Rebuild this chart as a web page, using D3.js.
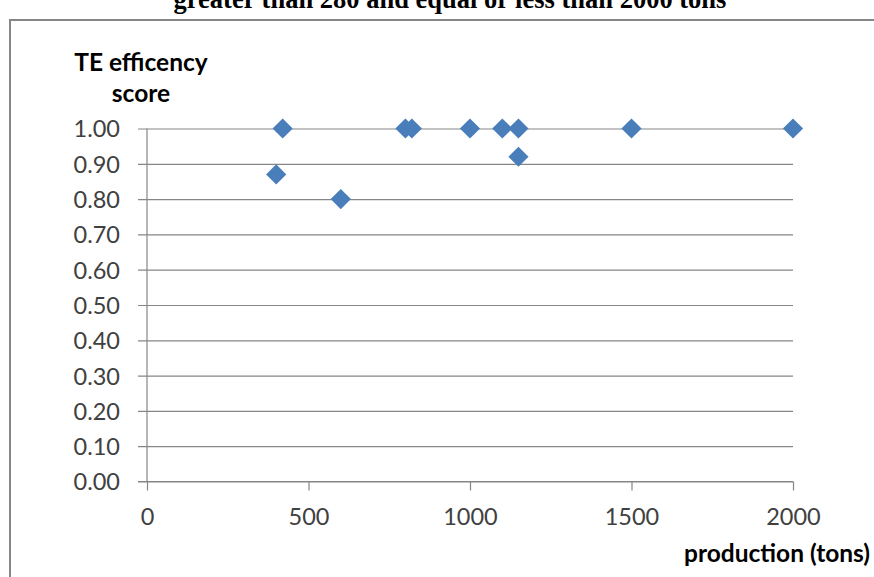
<!DOCTYPE html>
<html>
<head>
<meta charset="utf-8">
<script src="https://cdn.jsdelivr.net/npm/d3@7"></script>
<style>
  html, body { margin: 0; padding: 0; background: #fff; }
  svg { display: block; }
</style>
</head>
<body>
<svg id="chart" width="874" height="577"></svg>
<script>
// Production (tons) and TE efficiency score per farm
const production = [420, 400, 600, 800, 820, 1000, 1100, 1150, 1150, 1500, 2000];
const teScore    = [1.00, 0.87, 0.80, 1.00, 1.00, 1.00, 1.00, 1.00, 0.92, 1.00, 1.00];
const xTicks = [0, 500, 1000, 1500, 2000];
const yTicks = [0, 0.1, 0.2, 0.3, 0.4, 0.5, 0.6, 0.7, 0.8, 0.9, 1.0];

const titleText = "greater than 280 and equal or less than 2000 tons";
const yTitle = ["TE efficency", "score"];
const xTitle = "production (tons)";

const svg = d3.select("#chart");
const gridColor = "#868686";
const markColor = "#4a7ebb";
const labelFont = "Lato, 'Open Sans', sans-serif";

// Title (partly above the page edge)
svg.append("text")
  .attr("x", 450).attr("y", 8)
  .attr("text-anchor", "middle")
  .attr("font-family", "'Liberation Serif', 'Times New Roman', serif")
  .attr("font-weight", "bold")
  .attr("font-size", 26.5)
  .attr("fill", "#000")
  .text(titleText);

// Chart frame
svg.append("rect")
  .attr("x", 10).attr("y", 20)
  .attr("width", 880).attr("height", 600)
  .attr("fill", "none")
  .attr("stroke", gridColor)
  .attr("stroke-width", 2);

const x = d3.scaleLinear().domain([0, 2000]).range([147, 793]);
const y = d3.scaleLinear().domain([0, 1]).range([481.5, 128.5]);

// Horizontal gridlines with left tick marks and labels
const yAxis = d3.axisLeft(y)
  .tickValues(yTicks)
  .tickSize(-(x(2000) - x(0)))
  .tickPadding(27)
  .tickFormat(d3.format(".2f"));
const gy = svg.append("g").attr("transform", `translate(${x(0)},0)`).call(yAxis);
gy.select(".domain").remove();
gy.selectAll(".tick line")
  .attr("x1", -9)
  .attr("stroke", gridColor).attr("stroke-width", 1.2);
gy.selectAll(".tick text")
  .attr("font-family", labelFont).attr("font-size", 23.5)
  .attr("dy", "0.36em")
  .attr("fill", "#404040");

// Vertical axis line
svg.append("line")
  .attr("x1", x(0)).attr("x2", x(0))
  .attr("y1", y(1)).attr("y2", y(0))
  .attr("stroke", gridColor).attr("stroke-width", 1.2);

// Bottom axis
const xAxis = d3.axisBottom(x)
  .tickValues(xTicks)
  .tickSize(9)
  .tickFormat(d3.format("d"));
const gx = svg.append("g").attr("transform", `translate(0,${y(0)})`).call(xAxis);
gx.select(".domain").attr("stroke", gridColor).attr("stroke-width", 1.2)
  .attr("d", `M${x(0) - 9},0H${x(2000)}`);
gx.selectAll(".tick line").attr("stroke", gridColor).attr("stroke-width", 1.2);
gx.selectAll(".tick text")
  .attr("y", 43.5).attr("dy", 0)
  .attr("font-family", labelFont).attr("font-size", 23.5)
  .attr("fill", "#404040");

// Axis titles
const titleFont = 24.5;
svg.append("text")
  .attr("x", 141).attr("y", 71)
  .attr("text-anchor", "middle")
  .attr("font-family", labelFont).attr("font-weight", "bold").attr("font-size", titleFont)
  .attr("fill", "#000")
  .text(yTitle[0]);
svg.append("text")
  .attr("x", 141).attr("y", 102)
  .attr("text-anchor", "middle")
  .attr("font-family", labelFont).attr("font-weight", "bold").attr("font-size", titleFont)
  .attr("fill", "#000")
  .text(yTitle[1]);
svg.append("text")
  .attr("x", 870).attr("y", 562)
  .attr("text-anchor", "end")
  .attr("font-family", labelFont).attr("font-weight", "bold").attr("font-size", titleFont)
  .attr("fill", "#000")
  .text(xTitle);

// Diamond markers
const diamond = d3.symbol().type(d3.symbolDiamond2).size(260);
svg.append("g").selectAll("path")
  .data(production.map((p, i) => ({ p, s: teScore[i] })))
  .join("path")
  .attr("transform", d => `translate(${x(d.p)},${y(d.s)})`)
  .attr("d", diamond)
  .attr("fill", markColor);
</script>
</body>
</html>
